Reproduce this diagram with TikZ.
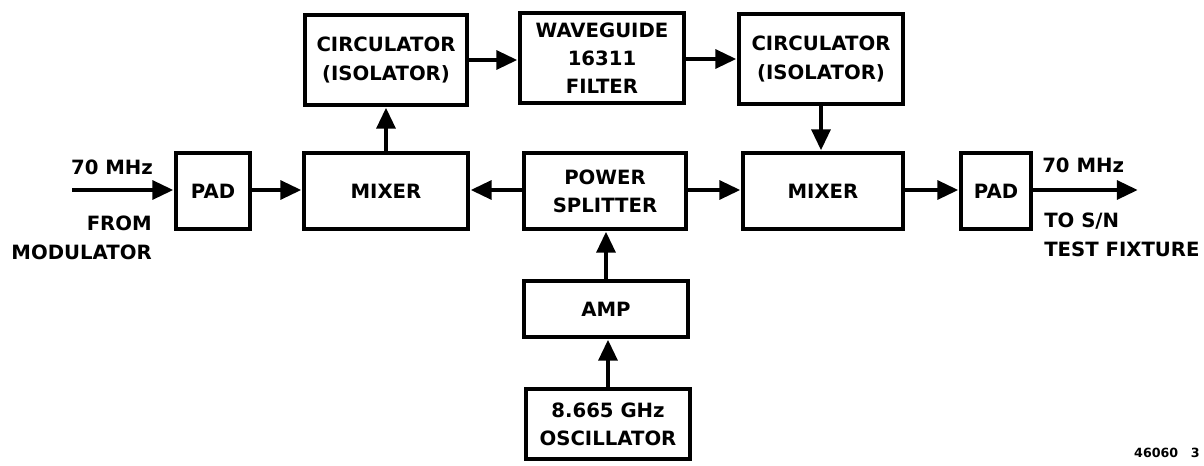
\documentclass[tikz,border=0pt]{standalone}
\usepackage{fontspec}
\setmainfont{DejaVu Sans}
\usetikzlibrary{arrows.meta}
\begin{document}
\begin{tikzpicture}[x=0.025cm, y=-0.025cm,
    block/.style={draw, line width=3.5pt, align=center, inner sep=0pt, font=\fontsize{14}{20}\selectfont\bfseries},
    flow/.style={line width=3.5pt, -{Triangle[length=15pt,width=13pt]}},
    lbl/.style={inner sep=0pt, font=\fontsize{14}{20}\selectfont\bfseries}]
    \useasboundingbox (0,0) rectangle (1204,466);
    \node[block, minimum width=1.85cm, minimum height=1.9cm] (padL) at (213,191) {PAD};
    \node[block, minimum width=4.1cm, minimum height=1.9cm] (mixL) at (386,191) {MIXER};
    \node[block, minimum width=4.05cm, minimum height=1.9cm] (split) at (605,191) {POWER\\SPLITTER};
    \node[block, minimum width=4.0cm, minimum height=1.9cm] (mixR) at (823,191) {MIXER};
    \node[block, minimum width=1.75cm, minimum height=1.9cm] (padR) at (996,191) {PAD};
    \node[block, minimum width=4.05cm, minimum height=2.25cm] (circL) at (386,60) {CIRCULATOR\\(ISOLATOR)};
    \node[block, minimum width=4.1cm, minimum height=2.25cm] (wg) at (602,58) {WAVEGUIDE\\16311\\FILTER};
    \node[block, minimum width=4.1cm, minimum height=2.25cm] (circR) at (821,59) {CIRCULATOR\\(ISOLATOR)};
    \node[block, minimum width=4.1cm, minimum height=1.4cm] (amp) at (606,309) {AMP};
    \node[block, minimum width=4.1cm, minimum height=1.75cm] (osc) at (608,424) {8.665 GHz\\OSCILLATOR};
    \coordinate (in) at (72,190);
    \coordinate (out) at (1138,190);
    \draw[flow] (in) -- (padL.west |- in);
    \draw[flow] (padL.east |- in) -- (mixL.west |- in);
    \draw[flow] (split.west |- in) -- (mixL.east |- in);
    \draw[flow] (split.east |- in) -- (mixR.west |- in);
    \draw[flow] (mixR.east |- in) -- (padR.west |- in);
    \draw[flow] (padR.east |- in) -- (out);
    \draw[flow] (mixL.north) -- (circL.south);
    \draw[flow] (circL.east) -- (wg.west |- circL.east);
    \draw[flow] (wg.east |- circR.west) -- (circR.west);
    \draw[flow] (circR.south) -- (mixR.north -| circR.south);
    \draw[flow] (amp.north) -- (split.south -| amp.north);
    \draw[flow] (osc.north) -- (amp.south -| osc.north);
    \node[lbl, anchor=base] (inlbl) at (112,174) {70 MHz};
    \node[lbl, anchor=north east, align=right] (src) at (152,216) {FROM\\MODULATOR};
    \node[lbl, anchor=base west] (outlbl) at (1042,172) {70 MHz};
    \node[lbl, anchor=north west, align=left] (dst) at (1044,213) {TO S/N\\TEST FIXTURE};
    \node[lbl, anchor=base east, font=\fontsize{9}{11}\selectfont\bfseries] (fig) at (1200,457) {46060\quad 3};
\end{tikzpicture}
\end{document}
